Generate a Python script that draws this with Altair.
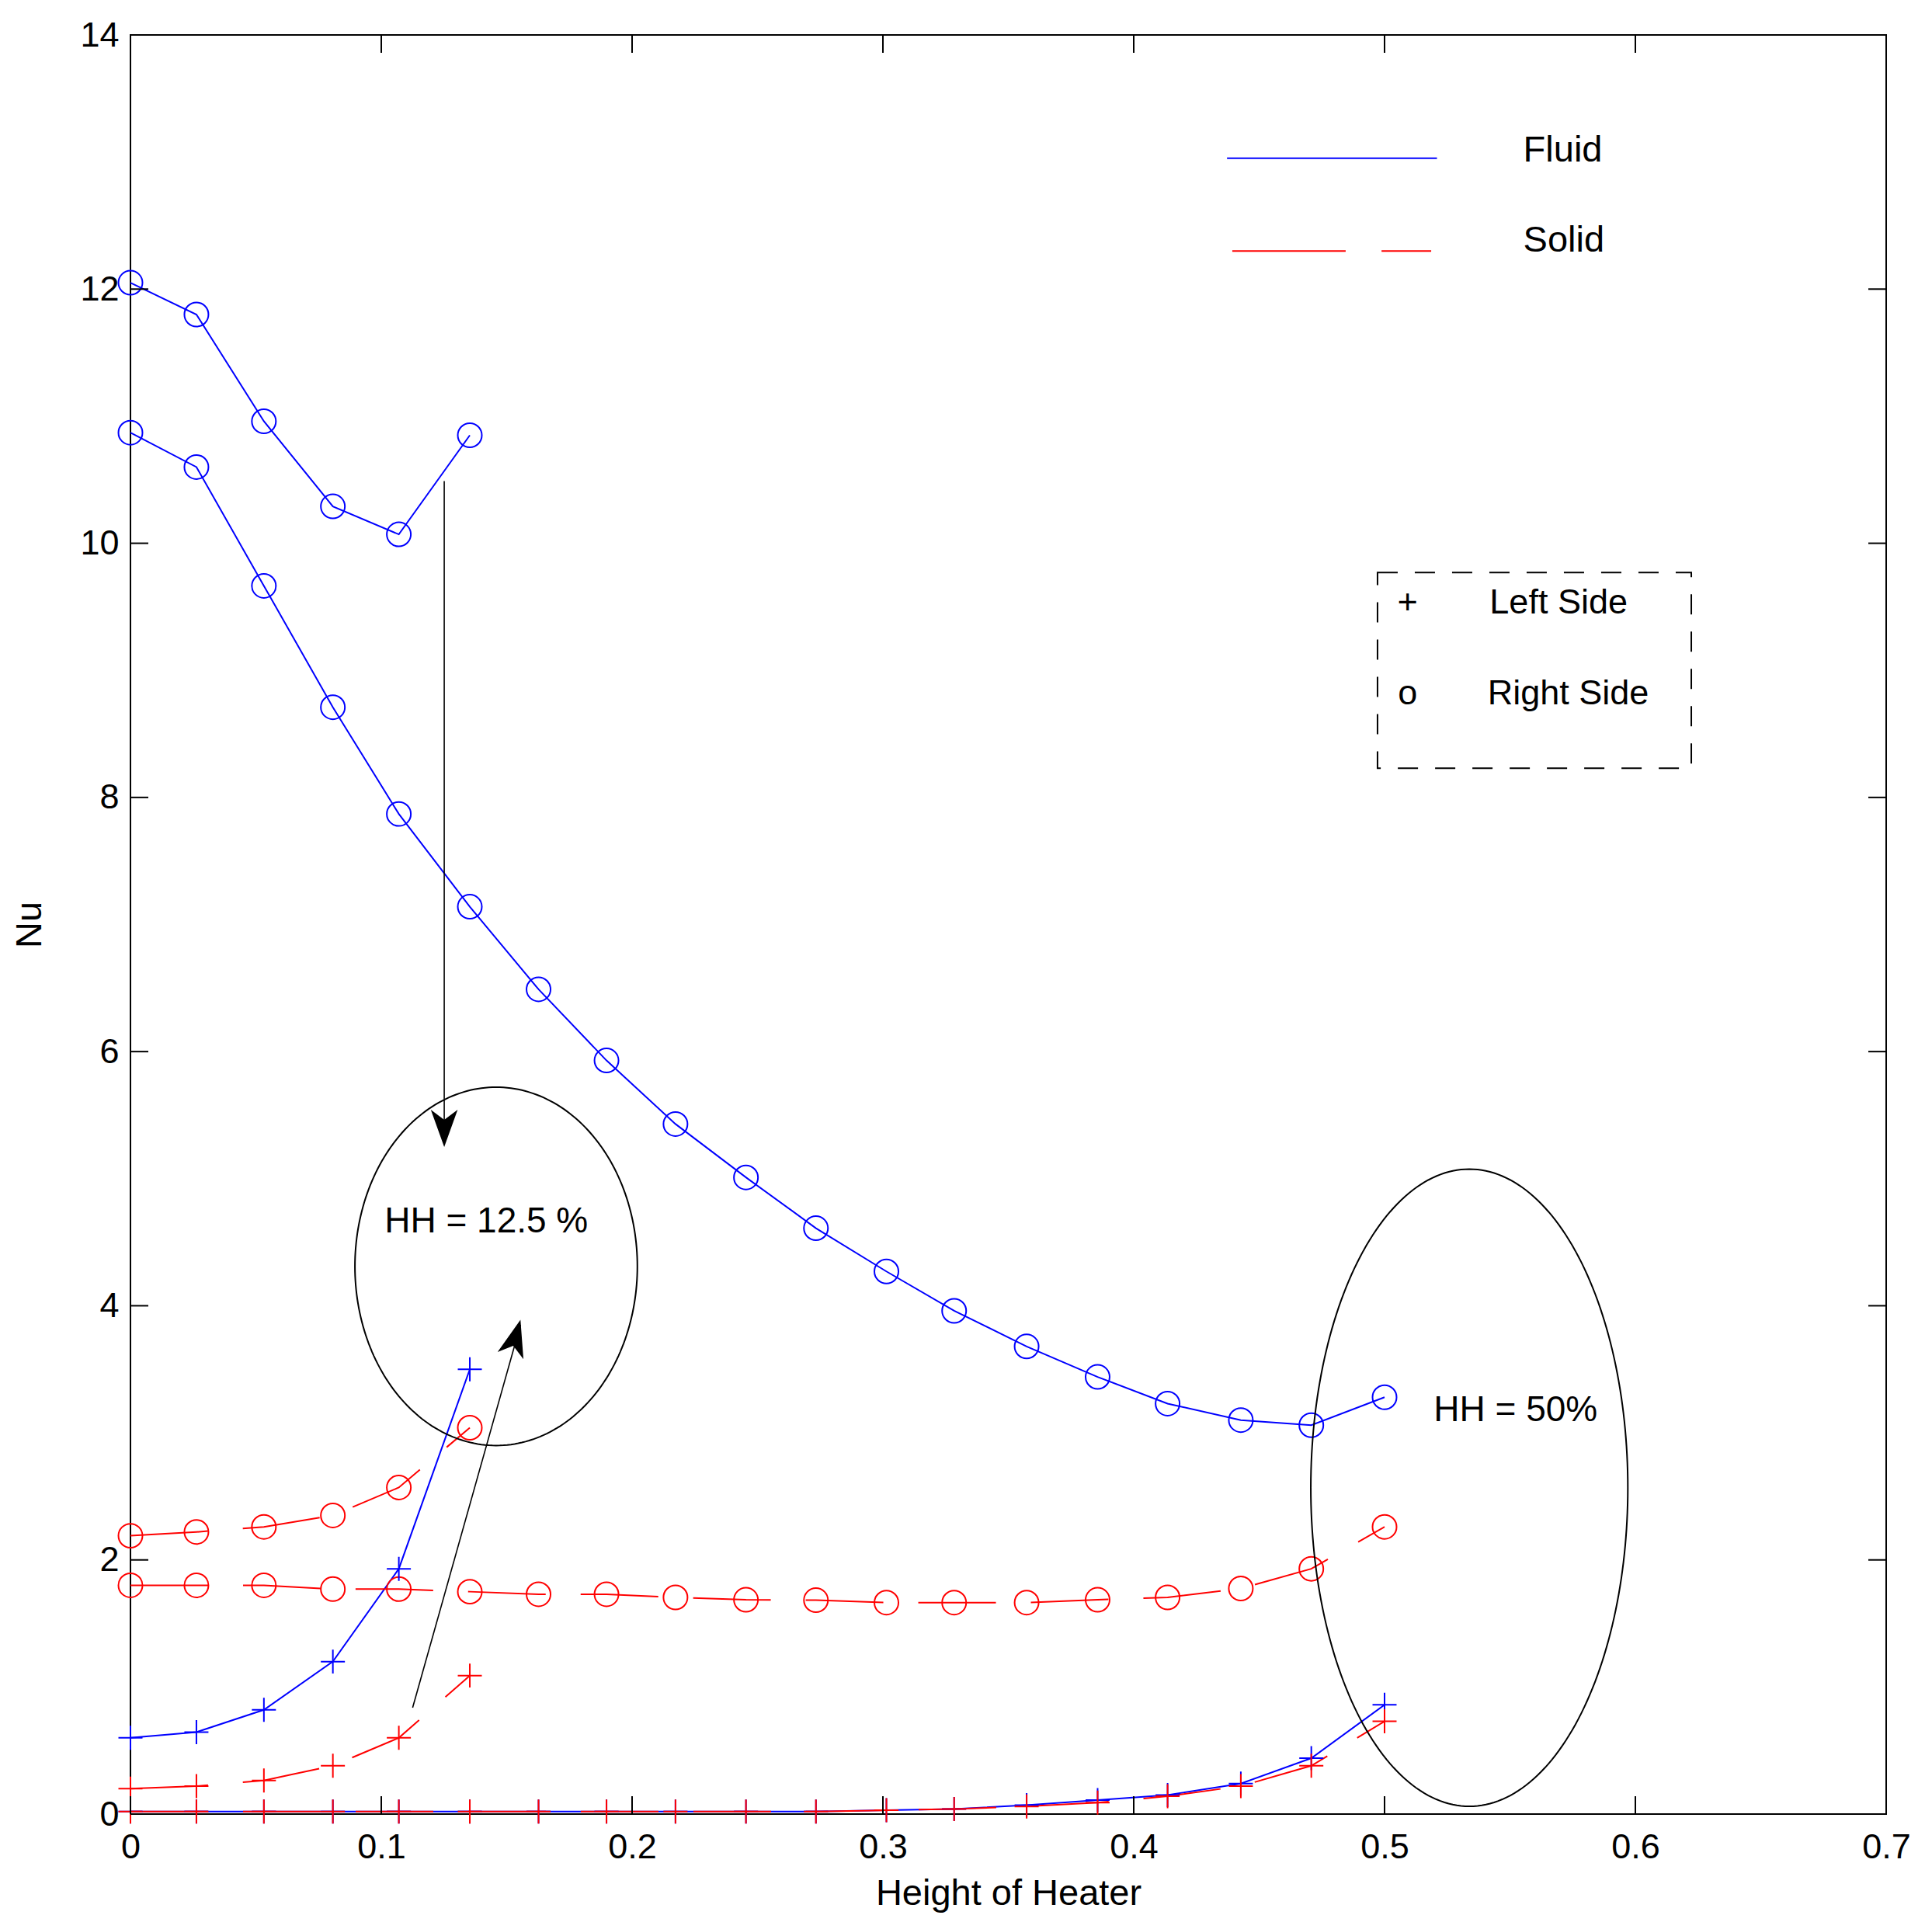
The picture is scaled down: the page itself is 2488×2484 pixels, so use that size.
import altair as alt
import pandas as pd
import numpy as np

# ---------------- data ----------------
x_long = [0, 0.0263, 0.0532, 0.0807, 0.107, 0.1353, 0.1627, 0.1898, 0.2173, 0.2454,
          0.2733, 0.3014, 0.3284, 0.3573, 0.3856, 0.4135, 0.4427, 0.4708, 0.5]
x_short = [0, 0.0263, 0.0532, 0.0807, 0.107, 0.1353]

# HH = 12.5 %
fluid_right_125 = [12.05, 11.80, 10.96, 10.29, 10.07, 10.85]
fluid_left_125 = [0.60, 0.645, 0.82, 1.20, 1.93, 3.50]
solid_right_125 = [2.19, 2.22, 2.26, 2.35, 2.57, 3.04]
solid_left_125 = [0.20, 0.22, 0.265, 0.38, 0.60, 1.09]

# HH = 50 %
fluid_right_50 = [10.87, 10.60, 9.665, 8.71, 7.87, 7.14, 6.49, 5.93, 5.43, 5.01,
                  4.61, 4.27, 3.96, 3.68, 3.44, 3.23, 3.10, 3.06, 3.28]
solid_right_50 = [1.80, 1.80, 1.80, 1.77, 1.77, 1.75, 1.73, 1.73, 1.705, 1.686,
                  1.683, 1.664, 1.664, 1.664, 1.686, 1.705, 1.775, 1.93, 2.26]
fluid_left_50 = [0.02, 0.02, 0.02, 0.02, 0.02, 0.02, 0.02, 0.02, 0.02, 0.02,
                 0.02, 0.03, 0.04, 0.07, 0.11, 0.15, 0.24, 0.44, 0.86]
solid_left_50 = [0.02, 0.02, 0.02, 0.02, 0.02, 0.02, 0.02, 0.02, 0.02, 0.02,
                 0.02, 0.03, 0.04, 0.06, 0.09, 0.14, 0.22, 0.38, 0.73]

x_ticks = [0, 0.1, 0.2, 0.3, 0.4, 0.5, 0.6, 0.7]
y_ticks = [0, 2, 4, 6, 8, 10, 12, 14]

BLUE = "#0000ff"
RED = "#ff0000"
FONT = "Liberation Sans"

W, H = 2261, 2291
TICK = 23

xscale = alt.Scale(domain=[0, 0.7], nice=False, zero=False)
yscale = alt.Scale(domain=[0, 14], nice=False, zero=False)

xaxis = alt.Axis(values=x_ticks, format="~g", title="Height of Heater", grid=False, ticks=False,
                 tickSize=0, domain=False, labelFontSize=45, titleFontSize=47, labelFont=FONT,
                 titleFont=FONT, labelColor="black", titleColor="black", titleFontWeight="normal",
                 labelPadding=20, titlePadding=14, labelFlush=False, labelOverlap=False)
yaxis = alt.Axis(values=y_ticks, format="~g", title="Nu", grid=False, ticks=False, tickSize=0,
                 domain=False, labelFontSize=45, titleFontSize=47, labelFont=FONT, titleFont=FONT,
                 labelColor="black", titleColor="black", titleFontWeight="normal",
                 labelPadding=15, titlePadding=40, labelFlush=False, labelOverlap=False)


def XF(f):
    return alt.X(f, scale=xscale, axis=xaxis)


def YF(f):
    return alt.Y(f, scale=yscale, axis=yaxis)


def sdf(xs, ys, name, color):
    return pd.DataFrame({"x": xs, "y": ys, "s": name, "c": color, "i": range(len(xs))})


fluid = pd.concat([
    sdf(x_short, fluid_right_125, "fr125", BLUE),
    sdf(x_short, fluid_left_125, "fl125", BLUE),
    sdf(x_long, fluid_right_50, "fr50", BLUE),
    sdf(x_long, fluid_left_50, "fl50", BLUE),
])
solid = pd.concat([
    sdf(x_short, solid_right_125, "sr125", RED),
    sdf(x_short, solid_left_125, "sl125", RED),
    sdf(x_long, solid_right_50, "sr50", RED),
    sdf(x_long, solid_left_50, "sl50", RED),
])
right = pd.concat([
    sdf(x_short, fluid_right_125, "fr125", BLUE),
    sdf(x_long, fluid_right_50, "fr50", BLUE),
    sdf(x_short, solid_right_125, "sr125", RED),
    sdf(x_long, solid_right_50, "sr50", RED),
])
left = pd.concat([
    sdf(x_short, fluid_left_125, "fl125", BLUE),
    sdf(x_long, fluid_left_50, "fl50", BLUE),
    sdf(x_short, solid_left_125, "sl125", RED),
    sdf(x_long, solid_left_50, "sl50", RED),
])

blue_lines = alt.Chart(fluid).mark_line(color=BLUE, strokeWidth=2).encode(
    x=XF("x:Q"), y=YF("y:Q"), detail="s:N", order="i:Q")

red_lines = alt.Chart(solid).mark_line(color=RED, strokeWidth=2, strokeDash=[100, 45]).encode(
    x=XF("x:Q"), y=YF("y:Q"), detail="s:N", order="i:Q")

circles = alt.Chart(right).mark_point(shape="circle", size=960, filled=False, strokeWidth=2,
                                      opacity=1).encode(
    x=XF("x:Q"), y=YF("y:Q"), color=alt.Color("c:N", scale=None))

PLUS = "M-1,0L1,0M0,-1L0,1"
pluses = alt.Chart(left).mark_point(shape=PLUS, size=960, filled=False, strokeWidth=2,
                                    opacity=1).encode(
    x=XF("x:Q"), y=YF("y:Q"), color=alt.Color("c:N", scale=None))

# ---------------- inward ticks on all four sides ----------------
xt = pd.DataFrame({"v": x_ticks})
yt = pd.DataFrame({"v": y_ticks})
tk = dict(color="black", strokeWidth=2)
ticks_b = alt.Chart(xt).mark_rule(**tk).encode(
    x=XF("v:Q"), y=alt.value(H), y2=alt.value(H - TICK))
ticks_t = alt.Chart(xt).mark_rule(**tk).encode(
    x=XF("v:Q"), y=alt.value(0), y2=alt.value(TICK))
ticks_l = alt.Chart(yt).mark_rule(**tk).encode(
    y=YF("v:Q"), x=alt.value(0), x2=alt.value(TICK))
ticks_r = alt.Chart(yt).mark_rule(**tk).encode(
    y=YF("v:Q"), x=alt.value(W), x2=alt.value(W - TICK))

# ---------------- annotations ----------------
ell_centers = {"e1": (0.1458, 4.31, 0.0563, 1.41), "e2": (0.5338, 2.568, 0.0632, 2.507)}
t = np.linspace(0, 2 * np.pi, 241)
ell_rows = []
for name, (cx, cy, rx, ry) in ell_centers.items():
    for k, tt in enumerate(t):
        ell_rows.append({"x": cx + rx * np.cos(tt), "y": cy + ry * np.sin(tt), "s": name, "i": k})
ell = pd.DataFrame(ell_rows)
ellipses = alt.Chart(ell).mark_line(color="black", strokeWidth=2).encode(
    x=XF("x:Q"), y=YF("y:Q"), detail="s:N", order="i:Q")

arrows = pd.DataFrame({
    "x1": [0.1251, 0.1125], "y1": [10.49, 0.837],
    "x2": [0.1251, 0.1555], "y2": [5.30, 3.85],
})
arrow_lines = alt.Chart(arrows).mark_rule(color="black", strokeWidth=1.6).encode(
    x=XF("x1:Q"), y=YF("y1:Q"), x2="x2:Q", y2="y2:Q")

heads = pd.DataFrame({"x": [0.1251, 0.1555], "y": [5.25, 3.89], "a": [180, 15.5]})
HEAD = "M0,0L0.72,2L0,1.45L-0.72,2Z"
arrow_heads = alt.Chart(heads).mark_point(shape=HEAD, size=2304, filled=True, color="black",
                                          opacity=1, strokeWidth=0).encode(
    x=XF("x:Q"), y=YF("y:Q"), angle=alt.Angle("a:Q", scale=None))

ann_text = pd.DataFrame({"x": [0.1013, 0.5196], "y": [4.66, 3.18],
                         "t": ["HH = 12.5 %", "HH = 50%"]})
ann = alt.Chart(ann_text).mark_text(align="left", baseline="middle", fontSize=46, font=FONT,
                                    color="black").encode(x=XF("x:Q"), y=YF("y:Q"), text="t:N")

# legend (drawn inside the axes, as in the figure)
leg_lines = pd.DataFrame({"x1": [0.4372, 0.4393, 0.4988], "x2": [0.5209, 0.4845, 0.5186],
                          "y": [13.03, 12.30, 12.30], "c": [BLUE, RED, RED]})
legend_lines = alt.Chart(leg_lines).mark_rule(strokeWidth=2).encode(
    x=XF("x1:Q"), x2="x2:Q", y=YF("y:Q"), color=alt.Color("c:N", scale=None))

leg_text = pd.DataFrame({"x": [0.5553, 0.5553], "y": [13.09, 12.38], "t": ["Fluid", "Solid"]})
legend_text = alt.Chart(leg_text).mark_text(align="left", baseline="middle", fontSize=47,
                                            font=FONT, color="black").encode(
    x=XF("x:Q"), y=YF("y:Q"), text="t:N")

box = pd.DataFrame({"x1": [0.4972], "x2": [0.6223], "y1": [9.77], "y2": [8.23]})
legend_box = alt.Chart(box).mark_rect(fillOpacity=0, stroke="black", strokeWidth=2,
                                      strokeDash=[26, 22]).encode(
    x=XF("x1:Q"), x2="x2:Q", y=YF("y1:Q"), y2="y2:Q")

sym_c_df = pd.DataFrame({"x": [0.5092, 0.5092], "y": [9.53, 8.82], "t": ["+", "o"]})
sym_l_df = pd.DataFrame({"x": [0.5419, 0.5411], "y": [9.53, 8.82], "t": ["Left Side", "Right Side"]})
sym_c = alt.Chart(sym_c_df).mark_text(
    align="center", baseline="middle", fontSize=45, font=FONT, color="black").encode(
    x=XF("x:Q"), y=YF("y:Q"), text="t:N")
sym_l = alt.Chart(sym_l_df).mark_text(
    align="left", baseline="middle", fontSize=45, font=FONT, color="black").encode(
    x=XF("x:Q"), y=YF("y:Q"), text="t:N")

chart = alt.layer(
    blue_lines, red_lines, circles, pluses,
    ticks_b, ticks_t, ticks_l, ticks_r,
    ellipses, arrow_lines, arrow_heads, ann,
    legend_lines, legend_text, legend_box, sym_c, sym_l,
).properties(
    width=W, height=H,
    autosize=alt.AutoSizeParams(type="none"),
    padding={"left": 160, "top": 37, "right": 51, "bottom": 140},
    background="white",
).configure(
    font=FONT,
    view=alt.ViewConfig(stroke="black", strokeWidth=2),
)

chart.save("out.html", embed_options={"renderer": "svg", "actions": False})
